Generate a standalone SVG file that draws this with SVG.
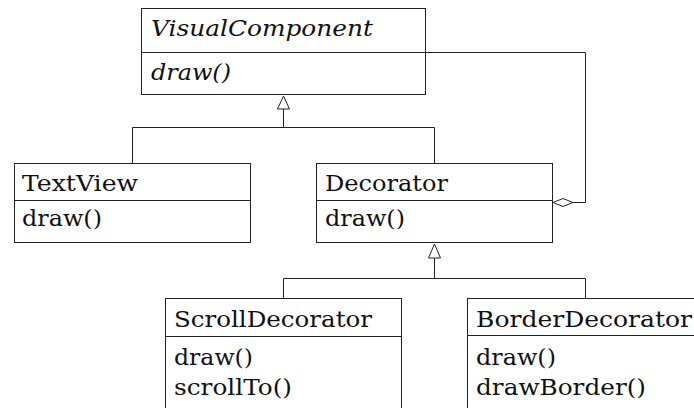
<svg xmlns="http://www.w3.org/2000/svg" width="694" height="408" viewBox="0 0 694 408">
<defs>
<style>
.box{fill:#fff;stroke:#222;stroke-width:1}
.ln{fill:none;stroke:#222;stroke-width:1}
.t{font-family:"DejaVu Serif","Liberation Serif",serif;font-size:22px;fill:#111}
.i{font-style:italic}
</style>
</defs>
<rect width="694" height="408" fill="#fff"/>
<g id="connectors">
<polyline class="ln" points="283.5,109 283.5,127.5"/>
<polyline class="ln" points="132.5,163 132.5,127.5 434.5,127.5 434.5,163"/>
<polygon class="ln" points="283.5,96 277.5,109 289.5,109" fill="#fff"/>
<polyline class="ln" points="426,52.5 585.5,52.5 585.5,202.5 573,202.5"/>
<polygon class="ln" points="553,202.5 563,198.5 573,202.5 563,206.5" fill="#fff"/>
<polyline class="ln" points="434.5,258 434.5,278.5"/>
<polyline class="ln" points="283.5,298 283.5,278.5 585.5,278.5 585.5,298"/>
<polygon class="ln" points="434.5,244 428.5,258 440.5,258" fill="#fff"/>
</g>
<g id="VisualComponent">
<rect class="box" x="141.5" y="8.5" width="284" height="86"/>
<line class="ln" x1="141.5" y1="52.5" x2="425.5" y2="52.5"/>
<text class="t i" x="151" y="36" textLength="222" lengthAdjust="spacingAndGlyphs">VisualComponent</text>
<text class="t i" x="151" y="80" textLength="80" lengthAdjust="spacingAndGlyphs">draw()</text>
</g>
<g id="TextView">
<rect class="box" x="14.5" y="163.5" width="236" height="79"/>
<line class="ln" x1="14.5" y1="200.5" x2="250.5" y2="200.5"/>
<text class="t" x="22" y="191" textLength="116" lengthAdjust="spacingAndGlyphs">TextView</text>
<text class="t" x="22" y="226" textLength="80" lengthAdjust="spacingAndGlyphs">draw()</text>
</g>
<g id="Decorator">
<rect class="box" x="316.5" y="163.5" width="236" height="79"/>
<line class="ln" x1="316.5" y1="200.5" x2="552.5" y2="200.5"/>
<text class="t" x="325" y="191" textLength="123" lengthAdjust="spacingAndGlyphs">Decorator</text>
<text class="t" x="325" y="226" textLength="80" lengthAdjust="spacingAndGlyphs">draw()</text>
</g>
<g id="ScrollDecorator">
<rect class="box" x="165.5" y="298.5" width="236" height="130"/>
<line class="ln" x1="165.5" y1="336.5" x2="401.5" y2="336.5"/>
<text class="t" x="174" y="326.5" textLength="198" lengthAdjust="spacingAndGlyphs">ScrollDecorator</text>
<text class="t" x="174" y="365" textLength="79" lengthAdjust="spacingAndGlyphs">draw()</text>
<text class="t" x="174" y="395" textLength="118" lengthAdjust="spacingAndGlyphs">scrollTo()</text>
</g>
<g id="BorderDecorator">
<rect class="box" x="467.5" y="298.5" width="240" height="130"/>
<line class="ln" x1="467.5" y1="335.5" x2="707" y2="335.5"/>
<text class="t" x="476" y="326.5" textLength="216" lengthAdjust="spacingAndGlyphs">BorderDecorator</text>
<text class="t" x="476" y="365" textLength="80" lengthAdjust="spacingAndGlyphs">draw()</text>
<text class="t" x="476" y="395" textLength="170" lengthAdjust="spacingAndGlyphs">drawBorder()</text>
</g>
</svg>
